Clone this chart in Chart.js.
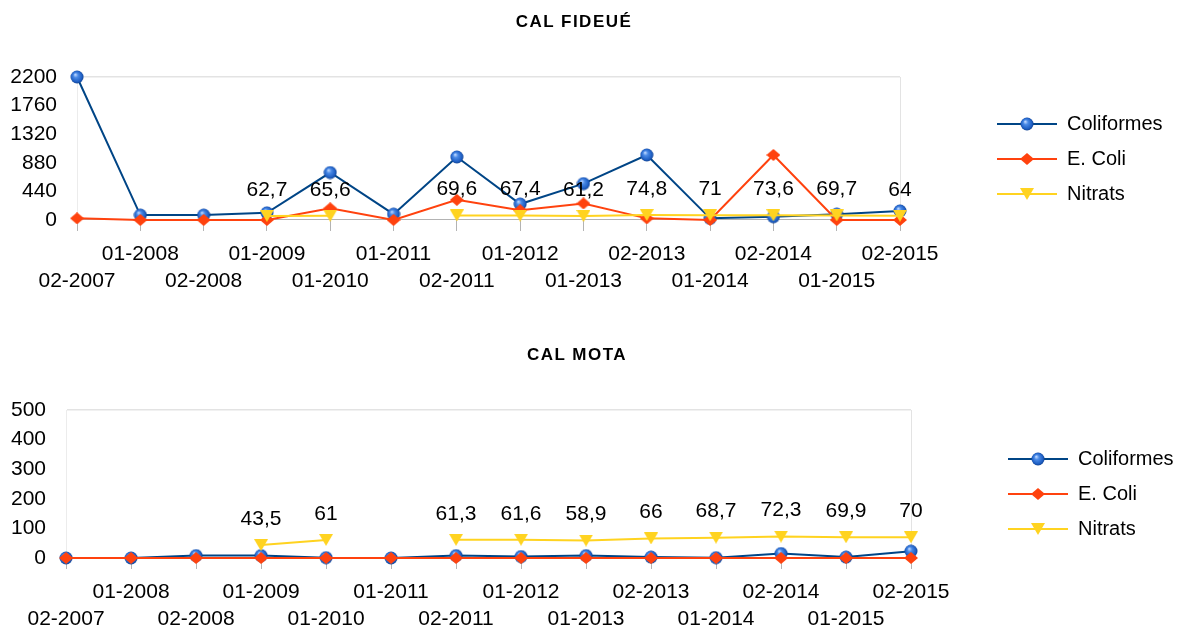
<!DOCTYPE html>
<html>
<head>
<meta charset="utf-8">
<title>CAL FIDEUÉ / CAL MOTA</title>
<script src="https://cdn.jsdelivr.net/npm/chart.js@4.4.1/dist/chart.umd.min.js"></script>
<style>
  body { margin: 0; background: #fff; overflow: hidden; }
  #wrap { position: relative; width: 1189px; height: 631px; overflow: hidden; }
  canvas { position: absolute; left: 0; }
  .title {
    position: absolute; width: 400px; text-align: center;
    font: bold 17px "Liberation Sans", Arial, sans-serif;
    letter-spacing: 1.5px; line-height: 17px; color: #000;
  }
</style>
</head>
<body>
<div id="wrap">
  <canvas id="fideue" width="1189" height="309" style="top:0"></canvas>
  <canvas id="mota" width="1189" height="349" style="top:300px"></canvas>
  <div class="title" style="left:374px; top:13px">CAL FIDEUÉ</div>
  <div class="title" style="left:377px; top:346px">CAL MOTA</div>
</div>
<script>
// sampling campaigns (half-year - year)
const categories = ['02-2007', '01-2008', '02-2008', '01-2009', '01-2010', '01-2011', '02-2011',
  '01-2012', '01-2013', '02-2013', '01-2014', '02-2014', '01-2015', '02-2015'];
const seriesNames = ['Coliformes', 'E. Coli', 'Nitrats'];

// Cal Fideué
const fideueColiformes = [2200, 75, 75, 110, 730, 90, 970, 245, 560, 1000, 25, 50, 90, 140];
const fideueEColi = [25, 0, 0, 0, 180, 0, 310, 150, 255, 25, 0, 1000, 0, 0];
const fideueNitrats = [null, null, null, 62.7, 65.6, null, 69.6, 67.4, 61.2, 74.8, 71, 73.6, 69.7, 64];
const fideueTicks = [0, 440, 880, 1320, 1760, 2200];

// Cal Mota
const motaColiformes = [0, 0, 8, 8, 1, 0, 8, 5, 8, 3, 1, 15, 3, 23];
const motaEColi = [0, 0, 0, 0, 0, 0, 0, 0, 0, 0, 0, 0, 0, 0];
const motaNitrats = [null, null, null, 43.5, 61, null, 61.3, 61.6, 58.9, 66, 68.7, 72.3, 69.9, 70];
const motaTicks = [0, 100, 200, 300, 400, 500];

const colors = ['#004586', '#ff420e', '#ffd320'];

Chart.defaults.font.family = '"Liberation Sans", Arial, sans-serif';
Chart.defaults.color = '#000';

// ---- marker images ----
function sphere() {
  const c = document.createElement('canvas');
  c.width = 14; c.height = 14;
  const g = c.getContext('2d');
  const grad = g.createRadialGradient(5.2, 4.6, 0.4, 7, 7, 7);
  grad.addColorStop(0, '#b8d4ff');
  grad.addColorStop(0.3, '#4a8ae6');
  grad.addColorStop(0.75, '#1f5fc4');
  grad.addColorStop(1, '#0c3b86');
  g.fillStyle = grad;
  g.beginPath();
  g.arc(7, 7, 6.5, 0, Math.PI * 2);
  g.fill();
  return c;
}

function diamond() {
  const c = document.createElement('canvas');
  c.width = 14; c.height = 12;
  const g = c.getContext('2d');
  g.fillStyle = colors[1];
  g.beginPath();
  g.moveTo(7, 0); g.lineTo(14, 6); g.lineTo(7, 12); g.lineTo(0, 6);
  g.closePath();
  g.fill();
  return c;
}

function triangle() {
  const c = document.createElement('canvas');
  c.width = 14; c.height = 12;
  const g = c.getContext('2d');
  g.fillStyle = colors[2];
  g.beginPath();
  g.moveTo(0, 0); g.lineTo(14, 0); g.lineTo(7, 12);
  g.closePath();
  g.fill();
  return c;
}

const markers = [sphere(), diamond(), triangle()];

// legend swatch: line with the marker in the middle
function legendIcon(i) {
  const c = document.createElement('canvas');
  c.width = 60; c.height = 16;
  const g = c.getContext('2d');
  g.strokeStyle = colors[i];
  g.lineWidth = 2;
  g.beginPath();
  g.moveTo(0, 8); g.lineTo(60, 8);
  g.stroke();
  const m = markers[i];
  g.drawImage(m, 30 - m.width / 2, 8 - m.height / 2);
  return c;
}
const legendIcons = [0, 1, 2].map(legendIcon);

// nitrate values written above their points
const valueLabels = {
  id: 'valueLabels',
  afterDatasetsDraw(chart) {
    const ctx = chart.ctx;
    const values = chart.data.datasets[2].data;
    const meta = chart.getDatasetMeta(2);
    ctx.save();
    ctx.font = '21px "Liberation Sans", Arial, sans-serif';
    ctx.fillStyle = '#000';
    ctx.textAlign = 'center';
    ctx.textBaseline = 'middle';
    meta.data.forEach((pt, i) => {
      if (values[i] == null) return;
      ctx.fillText(String(values[i]).replace('.', ','), pt.x, pt.y - 26);
    });
    ctx.restore();
  }
};

// put the legend block at a fixed spot right of the plot
const legendSpot = {
  id: 'legendSpot',
  afterLayout(chart, args, opts) {
    const lg = chart.legend;
    const pad = lg.options.labels.padding;
    lg.left = opts.x - pad;
    lg.right = lg.left + 220;
    lg.top = opts.y - pad;
    lg.bottom = lg.top + 200;
  }
};

function buildChart(id, series, ticks, padding, spot) {
  const max = ticks[ticks.length - 1];
  const last = categories.length - 1;
  return new Chart(document.getElementById(id), {
    type: 'line',
    data: {
      labels: categories,
      datasets: series.map((data, i) => ({
        label: seriesNames[i],
        data: data,
        borderColor: colors[i],
        backgroundColor: colors[i],
        borderWidth: 2,
        pointStyle: markers[i],
        pointRadius: 6,
        tension: 0,
        spanGaps: false,
        clip: false,
        order: 2 - i
      }))
    },
    options: {
      responsive: false,
      animation: false,
      layout: { padding: padding },
      plugins: {
        title: { display: false },
        tooltip: { enabled: false },
        legend: {
          position: 'chartArea',
          align: 'start',
          labels: {
            usePointStyle: true,
            pointStyleWidth: 60,
            padding: 15,
            font: { size: 20 },
            color: '#000',
            sort: (a, b) => a.datasetIndex - b.datasetIndex,
            generateLabels(chart) {
              return chart.data.datasets.map((ds, i) => ({
                text: ds.label,
                datasetIndex: i,
                pointStyle: legendIcons[i],
                fillStyle: colors[i],
                strokeStyle: colors[i],
                lineWidth: 0,
                hidden: false,
                fontColor: '#000'
              }));
            }
          }
        },
        legendSpot: spot
      },
      scales: {
        x: {
          offset: false,
          ticks: {
            autoSkip: false,
            maxRotation: 0,
            minRotation: 0,
            padding: 9,
            font: { size: 21, lineHeight: 1.31 },
            color: '#000',
            callback: (v, i) => (i % 2 ? [categories[i], ''] : ['', categories[i]])
          },
          grid: {
            offset: false,
            drawOnChartArea: true,
            color: c => (c.index === last ? '#e3e3e3' : 'rgba(0,0,0,0)'),
            tickColor: '#b3b3b3',
            tickLength: 11
          },
          border: { color: '#b3b3b3' }
        },
        y: {
          min: ticks[0],
          max: max,
          afterBuildTicks: scale => { scale.ticks = ticks.map(v => ({ value: v })); },
          ticks: {
            autoSkip: false,
            padding: 20,
            font: { size: 21 },
            color: '#000',
            callback: v => String(v)
          },
          grid: {
            drawTicks: false,
            lineWidth: 1.5,
            color: c => (c.tick && c.tick.value === max ? '#e3e3e3' : 'rgba(0,0,0,0)')
          },
          border: { color: '#ececec' }
        }
      }
    },
    plugins: [valueLabels, legendSpot]
  });
}

// y tick padding is counted twice in the axis width, hence the negative left padding
buildChart('fideue', [fideueColiformes, fideueEColi, fideueNitrats], fideueTicks,
  { left: -9.7, right: 289, top: 77, bottom: 5 }, { x: 997, y: 114 });
buildChart('mota', [motaColiformes, motaEColi, motaNitrats], motaTicks,
  { left: -9, right: 278, top: 110, bottom: 7 }, { x: 1008, y: 149 });
</script>
</body>
</html>
